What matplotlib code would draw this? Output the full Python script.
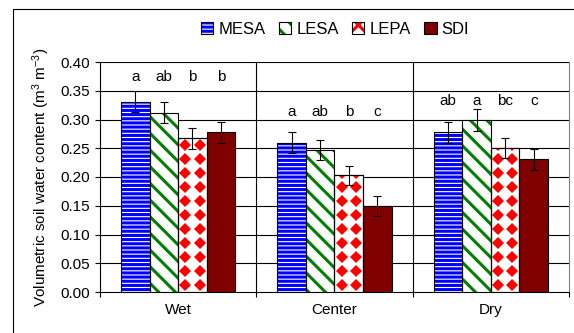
import matplotlib
matplotlib.use("Agg")
import matplotlib.pyplot as plt
import numpy as np
from matplotlib.patches import Patch, Rectangle
from matplotlib.legend_handler import HandlerTuple

plt.rcParams['font.family'] = ['Liberation Sans', 'DejaVu Sans']
plt.rcParams['mathtext.fontset'] = 'custom'
plt.rcParams['mathtext.rm'] = 'Liberation Sans'
plt.rcParams['mathtext.it'] = 'Liberation Sans:italic'
plt.rcParams['hatch.linewidth'] = 2.2

# ---- data ----
categories = ['Wet', 'Center', 'Dry']
series = ['MESA', 'LESA', 'LEPA', 'SDI']
mesa = [0.331, 0.260, 0.278]
lesa = [0.312, 0.247, 0.299]
lepa = [0.267, 0.203, 0.250]
sdi = [0.278, 0.150, 0.231]
mesa_err = [0.018, 0.018, 0.018]
lesa_err = [0.018, 0.017, 0.019]
lepa_err = [0.018, 0.017, 0.017]
sdi_err = [0.018, 0.017, 0.018]
letters = [['a', 'ab', 'b', 'b'],
           ['a', 'ab', 'b', 'c'],
           ['ab', 'a', 'bc', 'c']]
letter_y = [0.374, 0.313, 0.332]
yticks = [0.00, 0.05, 0.10, 0.15, 0.20, 0.25, 0.30, 0.35, 0.40]

values = [mesa, lesa, lepa, sdi]
errors = [mesa_err, lesa_err, lepa_err, sdi_err]

W, H = 574, 333
fig = plt.figure(figsize=(W / 100, H / 100), dpi=100)

# outer chart border
fig.patches.append(Rectangle((13 / W, -0.1), 1.2, 1 - 9 / H + 0.1,
                             transform=fig.transFigure, fill=False,
                             edgecolor='black', linewidth=0.8))

ax = fig.add_axes([100 / W, 1 - 292 / H, 469 / W, 230 / H])
ax.set_xlim(-0.5, 2.5)
ax.set_ylim(0, 0.40)

x = np.arange(len(categories))
bw = 0.183
offsets = [-1.5 * bw, -0.5 * bw, 0.5 * bw, 1.5 * bw]

# gridlines
for yt in yticks[1:]:
    ax.axhline(yt, color='black', linewidth=0.8, zorder=1)
for xs in [0.5, 1.5]:
    ax.axvline(xs, color='black', linewidth=0.8, zorder=1)

# bars
ax_h_px = 230
px_per_unit = ax_h_px / 0.40
dy = 14 / px_per_unit

hatch_specs = [('----', 'blue'), ('\\\\', 'green'), (None, 'red'), (None, '#800000')]
for i, (vals, errs) in enumerate(zip(values, errors)):
    xs = x + offsets[i]
    hatch, col = hatch_specs[i]
    if i == 3:
        ax.bar(xs, vals, bw, color=col, edgecolor='black', linewidth=0.8, zorder=3)
    elif i == 2:
        bars = ax.bar(xs, vals, bw, color='white', edgecolor='black', linewidth=0.8, zorder=3)
        for b, xc, v in zip(bars, xs, vals):
            rows = np.arange(dy / 2, v + dy, dy)
            for cx in [xc - bw / 4, xc + bw / 4]:
                ln, = ax.plot(np.full_like(rows, cx), rows, linestyle='none',
                              marker='D', markersize=6.6, color='red',
                              markeredgewidth=0, zorder=3.5)
                ln.set_clip_path(b)
        ax.bar(xs, vals, bw, fill=False, edgecolor='black', linewidth=0.8, zorder=4)
    else:
        ax.bar(xs, vals, bw, color='white', edgecolor=col, hatch=hatch,
               linewidth=0, zorder=3)
        ax.bar(xs, vals, bw, fill=False, edgecolor='black', linewidth=0.8, zorder=4)
    ax.errorbar(xs, vals, yerr=errs, fmt='none', ecolor='black',
                elinewidth=0.8, capsize=3, capthick=0.8, zorder=5)

# significance letters
for ci in range(len(categories)):
    for si in range(len(series)):
        ax.text(x[ci] + offsets[si], letter_y[ci], letters[ci][si],
                ha='center', va='center', fontsize=11)

# axes styling
ax.spines['top'].set_visible(False)
ax.spines['right'].set_color('#808080')
ax.spines['left'].set_linewidth(0.8)
ax.spines['bottom'].set_linewidth(0.8)
ax.set_yticks(yticks)
ax.set_yticklabels([f'{v:.2f}' for v in yticks])
ax.tick_params(axis='y', direction='out', length=3.5, width=0.8, pad=3.5, labelsize=11)
ax.set_xticks(x)
ax.set_xticklabels(categories)
ax.tick_params(axis='x', which='major', length=0, pad=8, labelsize=11)
ax.set_xticks([-0.5, 0.5, 1.5, 2.5], minor=True)
ax.tick_params(axis='x', which='minor', direction='out', length=3.5, width=0.8)
ax.set_ylabel(r'Volumetric soil water content (m$^3$ m$^{-3}$)', fontsize=11, labelpad=6)

# legend
handles = []
for i, name in enumerate(series):
    hatch, col = hatch_specs[i]
    if i == 0 or i == 1:
        h = (Patch(facecolor='white', edgecolor=col, hatch=hatch, linewidth=0),
             Patch(fill=False, edgecolor='black', linewidth=0.8))
    elif i == 2:
        h = (Patch(facecolor='white', edgecolor='red', hatch='xx', linewidth=0),
             Patch(fill=False, edgecolor='black', linewidth=0.8))
    else:
        h = Patch(facecolor=col, edgecolor='black', linewidth=0.8)
    handles.append(h)
fig.legend(handles, series, loc='center', bbox_to_anchor=(335 / W, 1 - 29 / H),
           ncol=4, frameon=False, fontsize=12, handlelength=0.75, handleheight=0.75,
           handletextpad=0.3, columnspacing=0.8, borderpad=0,
           handler_map={tuple: HandlerTuple(ndivide=1)})

fig.savefig('out.png', dpi=100)
